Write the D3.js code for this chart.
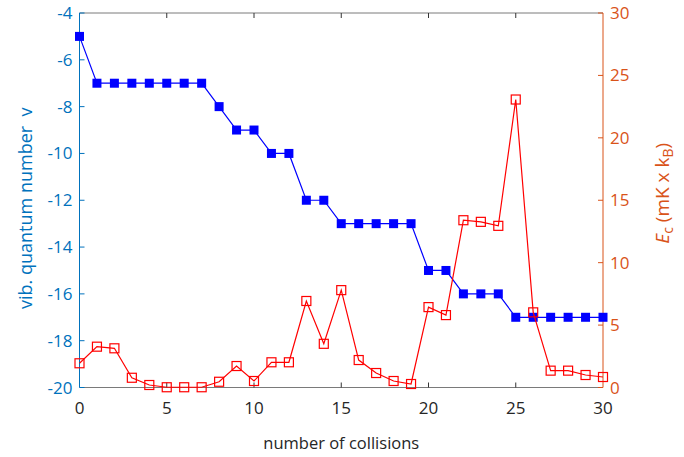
<!DOCTYPE html>
<html><head><meta charset="utf-8">
<script src="https://cdn.jsdelivr.net/npm/d3@7"></script>
<style>body{margin:0;background:#fff}svg{display:block}text{font-family:"Open Sans","Noto Sans",sans-serif}</style>
</head><body><svg id="c" width="684" height="457"></svg>
<script>
const collisions = d3.range(0, 31);
const vibLevel = [-5,-7,-7,-7,-7,-7,-7,-7,-8,-9,-9,-10,-10,-12,-12,-13,-13,-13,-13,-13,-15,-15,-16,-16,-16,-17,-17,-17,-17,-17,-17];
const energy = [1.94,3.27,3.14,0.78,0.2,0.02,0.02,0.02,0.46,1.72,0.52,2.02,2.02,6.93,3.5,7.8,2.2,1.16,0.52,0.28,6.44,5.8,13.4,13.27,12.95,23.07,6.02,1.35,1.35,1.0,0.84];
const xTicks = [0,5,10,15,20,25,30];
const yLeftTicks = [-20,-18,-16,-14,-12,-10,-8,-6,-4];
const yRightTicks = [0,5,10,15,20,25,30];

const svg = d3.select("#c");
const L=79.5, R=603, T=13, B=387.5;
const x = d3.scaleLinear().domain([0,30]).range([L,R]);
const yL = d3.scaleLinear().domain([-20,-4]).range([B,T]);
const yR = d3.scaleLinear().domain([0,30]).range([B,T]);
const blueAx="#0072BD", orangeAx="#D95319", gray="#7a7a7a";
const fs=17, lfs=18;

svg.append("line").attr("x1",L).attr("x2",R).attr("y1",T).attr("y2",T).attr("stroke",gray);
svg.append("line").attr("x1",L).attr("x2",R).attr("y1",B).attr("y2",B).attr("stroke",gray);
xTicks.forEach(t=>{
  if(t>0&&t<30){
    svg.append("line").attr("x1",x(t)).attr("x2",x(t)).attr("y1",B).attr("y2",B-5).attr("stroke","#333");
    svg.append("line").attr("x1",x(t)).attr("x2",x(t)).attr("y1",T).attr("y2",T+5).attr("stroke","#333");
  }
  svg.append("text").attr("x",x(t)).attr("y",B+26).attr("text-anchor","middle").attr("font-size",fs).attr("fill","#262626").text(t);
});
svg.append("line").attr("x1",L).attr("x2",L).attr("y1",T).attr("y2",B).attr("stroke",blueAx);
yLeftTicks.forEach(t=>{
  svg.append("line").attr("x1",L).attr("x2",L+5).attr("y1",yL(t)).attr("y2",yL(t)).attr("stroke",blueAx);
  svg.append("text").attr("x",L-7).attr("y",yL(t)+6).attr("text-anchor","end").attr("font-size",fs).attr("fill",blueAx).text(t);
});
svg.append("line").attr("x1",R).attr("x2",R).attr("y1",T).attr("y2",B).attr("stroke",orangeAx);
yRightTicks.forEach(t=>{
  svg.append("line").attr("x1",R).attr("x2",R-5).attr("y1",yR(t)).attr("y2",yR(t)).attr("stroke",orangeAx);
  svg.append("text").attr("x",R+7).attr("y",yR(t)+6).attr("text-anchor","start").attr("font-size",fs).attr("fill",orangeAx).text(t);
});
svg.append("text").attr("x",(L+R)/2).attr("y",449).attr("text-anchor","middle").attr("font-size",16.5).attr("fill","#262626").text("number of collisions");
svg.append("text").attr("transform",`translate(32,${(T+B)/2+8}) rotate(-90)`).attr("text-anchor","middle").attr("font-size",lfs).attr("fill",blueAx).attr("xml:space","preserve").text("vib. quantum number  v");
const rl = svg.append("text").attr("transform",`translate(669,${(T+B)/2-7}) rotate(-90)`).attr("text-anchor","middle").attr("font-size",lfs+1).attr("fill",orangeAx);
rl.append("tspan").attr("font-style","italic").text("E");
rl.append("tspan").attr("dy",4).attr("font-size",14).text("c");
rl.append("tspan").attr("dy",-4).text(" (mK x k");
rl.append("tspan").attr("dy",4).attr("font-size",14).text("B");
rl.append("tspan").attr("dy",-4).text(")");

const lineL = d3.line().x((d,i)=>x(collisions[i])).y(d=>yL(d));
svg.append("path").attr("d",lineL(vibLevel)).attr("fill","none").attr("stroke","#0000FF").attr("stroke-width",1.2);
svg.selectAll(".bm").data(vibLevel).join("rect").attr("x",(d,i)=>x(collisions[i])-4.5).attr("y",d=>yL(d)-4.5).attr("width",9).attr("height",9).attr("fill","#0000FF");
const lineR = d3.line().x((d,i)=>x(collisions[i])).y(d=>yR(d));
svg.append("path").attr("d",lineR(energy)).attr("fill","none").attr("stroke","#FF0000").attr("stroke-width",1.2);
svg.selectAll(".rm").data(energy).join("rect").attr("x",(d,i)=>x(collisions[i])-4.5).attr("y",d=>yR(d)-4.5).attr("width",9).attr("height",9).attr("fill","none").attr("stroke","#FF0000").attr("stroke-width",1.2);
</script></body></html>
